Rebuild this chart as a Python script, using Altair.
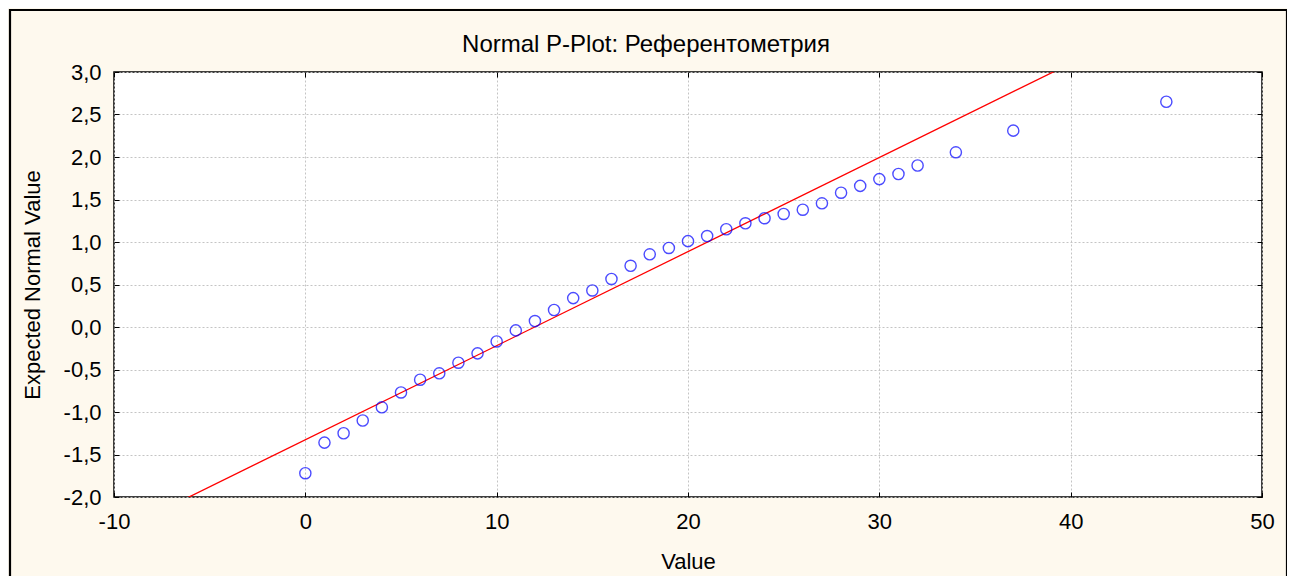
import altair as alt
import pandas as pd

# Observed values and their expected normal values
values = [0, 1, 2, 3, 4, 5, 6, 7, 8, 9, 10, 11, 12, 13, 14, 15, 16, 17, 18, 19,
          20, 21, 22, 23, 24, 25, 26, 27, 28, 29, 30, 31, 32, 34, 37, 45]
expected = [-1.72, -1.36, -1.25, -1.10, -0.945, -0.77, -0.62, -0.545, -0.42, -0.31,
            -0.17, -0.04, 0.07, 0.20, 0.34, 0.43, 0.565, 0.72, 0.855, 0.93,
            1.01, 1.07, 1.15, 1.22, 1.28, 1.33, 1.38, 1.455, 1.58, 1.66,
            1.74, 1.80, 1.90, 2.055, 2.31, 2.65]

# Reference line
line_slope = 0.1107
line_intercept = -1.327
line_x = [-10, 50]

x_ticks = [-10, 0, 10, 20, 30, 40, 50]
y_ticks = [-2.0, -1.5, -1.0, -0.5, 0.0, 0.5, 1.0, 1.5, 2.0, 2.5, 3.0]

title_text = ["Normal P-Plot: Референтометрия"]

pts = pd.DataFrame({"Value": values, "Expected": expected})
ln = pd.DataFrame({"Value": line_x,
                   "Expected": [line_intercept + line_slope * v for v in line_x]})
ttl = pd.DataFrame({"t": title_text})

FONT = "Liberation Sans"
W, H = 1148, 425

xscale = alt.Scale(domain=[-10, 50], nice=False, zero=False)
yscale = alt.Scale(domain=[-2, 3], nice=False, zero=False)

y_label_expr = "replace(replace(format(datum.value, '.1f'), '.', ','), '\u2212', '-')"
x_label_expr = "replace(format(datum.value, 'd'), '\u2212', '-')"

x_axis = alt.Axis(values=x_ticks, labelExpr=x_label_expr, orient="bottom", offset=-5,
                  tickSize=5, tickColor="black", tickWidth=1, domain=False,
                  grid=True, gridColor="#c4c4c4", gridDash=[2, 2], gridWidth=1,
                  labelFont=FONT, labelFontSize=22, labelColor="black", labelPadding=14,
                  title="Value", titleFont=FONT, titleFontSize=22, titleFontWeight="normal",
                  titleColor="black", titlePadding=19, labelFlush=False)
y_axis = alt.Axis(values=y_ticks, labelExpr=y_label_expr, orient="left", offset=-5,
                  tickSize=5, tickColor="black", tickWidth=1, domain=False,
                  grid=True, gridColor="#c4c4c4", gridDash=[2, 2], gridWidth=1,
                  labelFont=FONT, labelFontSize=22, labelColor="black", labelPadding=13,
                  title="Expected Normal Value", titleFont=FONT, titleFontSize=22,
                  titleFontWeight="normal", titleColor="black", titlePadding=19,
                  labelFlush=False)

points = alt.Chart(pts).mark_point(shape="circle", filled=False, color="#0000ff",
                                   size=125, strokeWidth=1.4).encode(
    x=alt.X("Value:Q", scale=xscale, axis=x_axis),
    y=alt.Y("Expected:Q", scale=yscale, axis=y_axis),
)

x_axis_top = alt.Axis(values=x_ticks, orient="top", offset=-5, tickSize=5,
                      tickColor="black", tickWidth=1, domain=False, grid=False,
                      labels=False, title=None)
y_axis_right = alt.Axis(values=y_ticks, orient="right", offset=-5, tickSize=5,
                        tickColor="black", tickWidth=1, domain=False, grid=False,
                        labels=False, title=None)

line = alt.Chart(ln).mark_line(color="#ff0000", strokeWidth=1.3, clip=True).encode(
    x=alt.X("Value:Q", scale=xscale, axis=x_axis_top),
    y=alt.Y("Expected:Q", scale=yscale, axis=y_axis_right),
)

frame = alt.Chart(ttl).mark_rect(fillOpacity=0, stroke="black", strokeWidth=2.2).encode(
    x=alt.value(-104), x2=alt.value(1173), y=alt.value(-62), y2=alt.value(540)
)

title = alt.Chart(ttl).mark_text(font=FONT, fontSize=24, color="black",
                                 align="center", baseline="middle").encode(
    text="t:N", x=alt.value(532), y=alt.value(-27)
)

chart = alt.layer(frame, line, points, title).properties(
    width=W, height=H,
    autosize=alt.AutoSizeParams(type="none"),
    padding={"left": 106, "top": 64, "right": 25, "bottom": 79},
    background="#fef9ee",
).configure_view(fill="white", stroke="black", strokeWidth=1.5)

chart.save("out.html", embed_options={"renderer": "svg", "actions": False})
